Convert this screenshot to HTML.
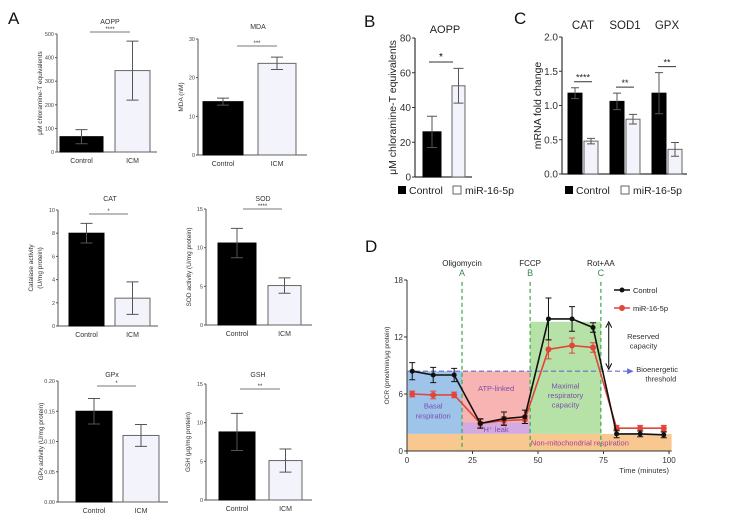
<!DOCTYPE html>
<html><head><meta charset="utf-8"><style>
html,body{margin:0;padding:0;background:#fff;width:750px;height:530px;overflow:hidden}
svg{display:block;font-family:"Liberation Sans",sans-serif}
</style></head><body>
<svg id="fig" width="750" height="530" viewBox="0 0 750 530">
<text x="8" y="24" font-size="17" fill="#111">A</text>
<text x="364" y="27" font-size="17" fill="#111">B</text>
<text x="514" y="24" font-size="17" fill="#111">C</text>
<text x="365" y="252" font-size="17" fill="#111">D</text>
</svg>
<script>
// ---- Panel A data ----
const aCats = ["Control","ICM"];
const aoppVals = [65,345], aoppErr = [30,125], aoppTicks = [0,100,200,300,400,500];
const mdaVals = [13.8,23.7], mdaErr = [0.9,1.6], mdaTicks = [0,10,20,30];
const catVals = [8.0,2.4], catErr = [0.85,1.4], catTicks = [0,2,4,6,8,10];
const sodVals = [10.6,5.1], sodErr = [1.9,1.0], sodTicks = [0,5,10,15];
const gpxVals = [0.15,0.11], gpxErr = [0.021,0.018], gpxTicks = [0,0.05,0.10,0.15,0.20];
const gshVals = [8.8,5.1], gshErr = [2.4,1.5], gshTicks = [0,5,10,15];
// ---- Panel B data ----
const bVals = [26,52.5], bErr = [9,10], bTicks = [0,20,40,60,80];
// ---- Panel C data ----
const cGenes = ["CAT","SOD1","GPX"];
const cControl = [1.18,1.06,1.18], cControlErr = [0.08,0.12,0.3];
const cMir = [0.48,0.80,0.36], cMirErr = [0.04,0.07,0.1];
const cTicks = [0,0.5,1.0,1.5,2.0];
const cStars = ["****","**","**"];
// ---- Panel D data ----
const dTimes = [2,10,18,28,37,45,54,63,71,80,89,98];
const dControl = [8.4,8.0,8.0,2.9,3.4,3.6,13.9,13.9,13.0,1.8,1.8,1.7];
const dControlErr = [0.9,0.8,0.7,0.5,0.7,0.7,2.2,1.3,0.5,0.4,0.3,0.3];
const dMir = [6.0,5.9,5.9,2.9,3.2,3.3,10.7,11.1,10.9,2.4,2.4,2.4];
const dMirErr = [0.3,0.4,0.3,0.4,0.4,0.4,1.0,0.8,0.5,0.3,0.3,0.3];
const dXTicks = [0,25,50,75,100], dYTicks = [0,6,12,18];
const dInjections = [21,47,74], dInjNames = ["Oligomycin","FCCP","Rot+AA"], dInjLetters = ["A","B","C"];

const svg = document.getElementById('fig');
const NS = 'http://www.w3.org/2000/svg';
function el(tag, attrs, parent, text){
  const e = document.createElementNS(NS, tag);
  for (const k in attrs) e.setAttribute(k, attrs[k]);
  if (text !== undefined) e.textContent = text;
  (parent||svg).appendChild(e); return e;
}
function fmt(v, d){ return d===undefined ? String(v) : v.toFixed(d); }

function smallBar(o){
  const g = el('g', {});
  
  
  const max = o.ticks[o.ticks.length-1];
  const y = v => o.y0 - (v/max)*(o.y0-o.yTop);
  const ay = el('line',{x1:o.ax,y1:o.yTop,x2:o.ax,y2:o.y0,stroke:'#555','stroke-width':1},g);
  
  
  const ax = el('line',{x1:o.ax,y1:o.y0,x2:o.axEnd,y2:o.y0,stroke:'#555','stroke-width':1},g);
  
  
  o.ticks.forEach(t=>{
    el('line',{x1:o.ax-2,y1:y(t),x2:o.ax,y2:y(t),stroke:'#555'},g);
    const tx = el('text',{x:o.ax-3,y:y(t)+2,'font-size':o.fs,'text-anchor':'end',fill:'#444'},g,fmt(t,o.dec));
    
    
  });
  o.vals.forEach((v,i)=>{
    const b = o.bars[i];
    const r = el('rect',{x:b[0],y:y(v),width:b[1]-b[0],height:o.y0-y(v),fill:i?'#f3f3fb':'#000',stroke:i?'#666':'#000','stroke-width':1},g);
    
    
    const cx=(b[0]+b[1])/2, e=o.err[i];
    el('path',{d:`M${cx},${y(v-e)}V${y(v+e)}M${cx-6},${y(v+e)}H${cx+6}M${cx-6},${y(v-e)}H${cx+6}`,stroke:'#555',fill:'none','stroke-width':1},g);
    const lt = el('text',{x:cx,y:o.y0+11,'font-size':o.fs+1.5,'text-anchor':'middle',fill:'#333'},g,aCats[i]);
    
    
  });
  const t = el('text',{x:o.tx,y:o.ty,'font-size':o.fs+1.5,'text-anchor':'middle',fill:'#333'},g,o.title);
  
  
  el('line',{x1:o.sig[0],y1:o.sig[2],x2:o.sig[1],y2:o.sig[2],stroke:'#777'},g);
  el('text',{x:(o.sig[0]+o.sig[1])/2,y:o.sig[2]-1,'font-size':6,'text-anchor':'middle',fill:'#333'},g,o.stars);
  const yl = el('text',{transform:`translate(${o.ylx},${(o.yTop+o.y0)/2}) rotate(-90)`,'font-size':o.fs+1,'text-anchor':'middle',fill:'#333'},g);
  
  
  o.ylab.forEach((l,i)=>el('tspan',{x:0,dy:i?9:0},yl,l));
}
smallBar({name:'aopp-chart',vals:aoppVals,err:aoppErr,ticks:aoppTicks,ax:57,axEnd:157,yTop:34,y0:152,bars:[[60,103],[115,150]],fs:5.5,title:'AOPP',tx:110,ty:24,sig:[90,130,32],stars:'****',ylab:['\u03bcM chloramine-T equivalents'],ylx:42});
smallBar({name:'mda-chart',vals:mdaVals,err:mdaErr,ticks:mdaTicks,ax:198,axEnd:307,yTop:39,y0:155,bars:[[203,243],[258,296]],fs:5.5,title:'MDA',tx:258,ty:29,sig:[237,277,46],stars:'***',ylab:['MDA (nM)'],ylx:183});
smallBar({name:'cat-chart',vals:catVals,err:catErr,ticks:catTicks,ax:58,axEnd:158,yTop:210,y0:326,bars:[[69,104],[115,150]],fs:5.5,title:'CAT',tx:110,ty:201,sig:[89,128,214],stars:'*',ylab:['Catalase activity','(U/mg protein)'],ylx:33});
smallBar({name:'sod-chart',vals:sodVals,err:sodErr,ticks:sodTicks,ax:206,axEnd:312,yTop:209,y0:325,bars:[[218,256],[268,301]],fs:5.5,title:'SOD',tx:263,ty:201,sig:[243,282,209],stars:'****',ylab:['SOD activity (U/mg protein)'],ylx:191});
smallBar({name:'gpx-activity-chart',vals:gpxVals,err:gpxErr,ticks:gpxTicks,ax:58,axEnd:168,yTop:381,y0:502,bars:[[76,112],[123,159]],fs:5.5,dec:2,title:'GPx',tx:112,ty:377,sig:[97,136,386],stars:'*',ylab:['GPx activity (U/mg protein)'],ylx:43});
smallBar({name:'gsh-chart',vals:gshVals,err:gshErr,ticks:gshTicks,ax:206,axEnd:312,yTop:384,y0:500,bars:[[219,255],[269,302]],fs:5.5,title:'GSH',tx:258,ty:377,sig:[240,280,389],stars:'**',ylab:['GSH (\u03bcg/mg protein)'],ylx:190});

// ---- Panel B ----
(function(){
  const g = el('g',{});
  
  
  const ax=415, yTop=38, y0=177, max=bTicks[bTicks.length-1];
  const y = v => y0-(v/max)*(y0-yTop);
  el('line',{x1:ax,y1:yTop,x2:ax,y2:y0,stroke:'#333','stroke-width':1.2},g);
  el('line',{x1:ax,y1:y0,x2:472,y2:y0,stroke:'#333','stroke-width':1.2},g);
  bTicks.forEach(t=>{
    el('line',{x1:ax-3,y1:y(t),x2:ax,y2:y(t),stroke:'#333'},g);
    const tx=el('text',{x:ax-4,y:y(t)+3.5,'font-size':10,'text-anchor':'end',fill:'#333'},g,String(t));
    
    
  });
  const bars=[[423,441],[452,465]];
  bVals.forEach((v,i)=>{
    const b=bars[i];
    const r=el('rect',{x:b[0],y:y(v),width:b[1]-b[0],height:y0-y(v),fill:i?'#f3f3fb':'#000',stroke:i?'#666':'#000'},g);
    
    
    const cx=(b[0]+b[1])/2,e=bErr[i];
    el('path',{d:`M${cx},${y(v-e)}V${y(v+e)}M${cx-5},${y(v+e)}H${cx+5}M${cx-5},${y(v-e)}H${cx+5}`,stroke:'#555',fill:'none'},g);
  });
  el('line',{x1:429,y1:62,x2:453,y2:62,stroke:'#333'},g);
  el('text',{x:441,y:60,'font-size':10,'text-anchor':'middle'},g,'*');
  const t=el('text',{x:445,y:33,'font-size':11,'text-anchor':'middle',fill:'#222'},g,'AOPP');
  
  
  const yl=el('text',{transform:`translate(396,${(yTop+y0)/2}) rotate(-90)`,'font-size':10.5,'text-anchor':'middle',fill:'#222'},g,'\u03bcM chloramine-T equivalents');
  
  
  const l1=el('g',{},g);
  
  
  el('rect',{x:398,y:186,width:8,height:8,fill:'#000'},l1);
  el('text',{x:409,y:194,'font-size':10.5,fill:'#222'},l1,'Control');
  const l2=el('g',{},g);
  
  
  el('rect',{x:453,y:186,width:8,height:8,fill:'#fff',stroke:'#666'},l2);
  el('text',{x:465,y:194,'font-size':10.5,fill:'#222'},l2,'miR-16-5p');
})();

// ---- Panel C ----
(function(){
  const g=el('g',{});
  
  
  const ax=562,yTop=37,y0=174,max=cTicks[cTicks.length-1];
  const y=v=>y0-(v/max)*(y0-yTop);
  el('line',{x1:ax,y1:yTop,x2:ax,y2:y0,stroke:'#333','stroke-width':1.2},g);
  el('line',{x1:ax,y1:y0,x2:687,y2:y0,stroke:'#333','stroke-width':1.2},g);
  cTicks.forEach(t=>{
    el('line',{x1:ax-3,y1:y(t),x2:ax,y2:y(t),stroke:'#333'},g);
    const tx=el('text',{x:ax-4,y:y(t)+3.5,'font-size':10,'text-anchor':'end',fill:'#333'},g,t.toFixed(1));
    
    
  });
  const gx0=568, gstep=42, bw=14;
  cGenes.forEach((name,i)=>{
    const x0=gx0+i*gstep;
    [[cControl[i],cControlErr[i],x0,'#000','#000'],[cMir[i],cMirErr[i],x0+bw+2,'#f3f3fb','#666']].forEach((s,j)=>{
      const r=el('rect',{x:s[2],y:y(s[0]),width:bw,height:y0-y(s[0]),fill:s[3],stroke:s[4]},g);
      
      
      const cx=s[2]+bw/2;
      el('path',{d:`M${cx},${y(s[0]-s[1])}V${y(s[0]+s[1])}M${cx-4},${y(s[0]+s[1])}H${cx+4}M${cx-4},${y(s[0]-s[1])}H${cx+4}`,stroke:'#555',fill:'none'},g);
    });
    const sy=y(cControl[i]+cControlErr[i])-6;
    el('line',{x1:x0+6,y1:sy,x2:x0+bw+10,y2:sy,stroke:'#333'},g);
    el('text',{x:x0+bw+1,y:sy-1,'font-size':9,'text-anchor':'middle',fill:'#222'},g,cStars[i]);
    const t=el('text',{x:x0+bw+1,y:29,'font-size':11.5,'text-anchor':'middle',fill:'#222'},g,name);
    
    
  });
  const yl=el('text',{transform:`translate(541,${(yTop+y0)/2}) rotate(-90)`,'font-size':10.5,'text-anchor':'middle',fill:'#222'},g,'mRNA fold change');
  
  
  const l1=el('g',{},g);
  
  
  el('rect',{x:565,y:186,width:8,height:8,fill:'#000'},l1);
  el('text',{x:576,y:194,'font-size':10.5,fill:'#222'},l1,'Control');
  const l2=el('g',{},g);
  
  
  el('rect',{x:621,y:186,width:8,height:8,fill:'#fff',stroke:'#666'},l2);
  el('text',{x:633,y:194,'font-size':10.5,fill:'#222'},l2,'miR-16-5p');
})();

// ---- Panel D ----
(function(){
  const g=el('g',{});
  
  
  const x0=407,xw=262,y0=451,yTop=280;
  const X=t=>x0+t/100*xw, Y=v=>y0-v/18*(y0-yTop);
  const base=1.8, basal=8.4, leak=3.0, maxr=13.6;
  const rr=(a,b,c,d,f,n)=>{const r=el('rect',{x:X(a),y:Y(d),width:X(b)-X(a),height:Y(c)-Y(d),fill:f,opacity:0.75},g);
      return r;};
  rr(0,101,0,base,'#f7b46b','region-non-mitochondrial');
  rr(0,dInjections[0],base,basal,'#7fb0e3','region-basal');
  rr(dInjections[0],dInjections[1],leak,basal,'#f59a9a','region-atp-linked');
  rr(dInjections[0],dInjections[1],base,leak,'#c58fd6','region-proton-leak');
  rr(dInjections[1],dInjections[2],base,maxr,'#9fd88a','region-maximal');
  const lab=(x,y,s,c,a)=>el('text',{x:x,y:y,'font-size':7.5,'text-anchor':a||'middle',fill:c},g,s);
  lab(X(10),Y(4.5),'Basal','#7a4fb0'); lab(X(10),Y(3.4),'respiration','#7a4fb0');
  lab(X(34),Y(6.3),'ATP-linked','#7a4fb0'); lab(X(34),Y(2.0),'H\u207a leak','#7a4fb0');
  lab(X(60.5),Y(6.6),'Maximal','#7a4fb0'); lab(X(60.5),Y(5.6),'respiratory','#7a4fb0'); lab(X(60.5),Y(4.6),'capacity','#7a4fb0');
  lab(X(66),Y(0.6),'Non-mitochondrial respiration','#a040a0');
  el('line',{x1:x0,y1:yTop,x2:x0,y2:y0,stroke:'#333'},g);
  el('line',{x1:x0,y1:y0,x2:X(101),y2:y0,stroke:'#333'},g);
  dYTicks.forEach(t=>{el('line',{x1:x0-3,y1:Y(t),x2:x0,y2:Y(t),stroke:'#333'},g);
    const tx=el('text',{x:x0-4,y:Y(t)+3,'font-size':8,'text-anchor':'end',fill:'#333'},g,String(t));
     });
  dXTicks.forEach(t=>{el('line',{x1:X(t),y1:y0,x2:X(t),y2:y0+3,stroke:'#333'},g);
    const tx=el('text',{x:X(t),y:y0+12,'font-size':8,'text-anchor':'middle',fill:'#333'},g,String(t));
     });
  const xt=el('text',{x:X(100),y:y0+22,'font-size':7.5,'text-anchor':'end',fill:'#333'},g,'Time (minutes)');
   
  const yl=el('text',{transform:`translate(389,${(yTop+y0)/2}) rotate(-90)`,'font-size':6.5,'text-anchor':'middle',fill:'#333'},g,'OCR (pmol/min/\u03bcg protein)');
   
  dInjections.forEach((t,i)=>{
    const l=el('line',{x1:X(t),y1:Y(17.8),x2:X(t),y2:y0,stroke:'#3aa84a','stroke-dasharray':'4,3','stroke-width':1.2},g);
     
    el('text',{x:X(t),y:266,'font-size':8,'text-anchor':'middle',fill:'#222'},g,dInjNames[i]);
    el('text',{x:X(t),y:276,'font-size':9,'text-anchor':'middle',fill:'#3a8a4a'},g,dInjLetters[i]);
  });
  const bt=el('line',{x1:x0,y1:Y(basal),x2:X(84),y2:Y(basal),stroke:'#6a6ad0','stroke-dasharray':'5,3','stroke-width':1.2},g);
   
  el('path',{d:`M${X(84)},${Y(basal)-3}L${X(86.5)},${Y(basal)}L${X(84)},${Y(basal)+3}Z`,fill:'#6a6ad0'},g);
  lab(X(87.5),Y(8.3),'Bioenergetic','#333','start'); lab(X(91),Y(7.3),'threshold','#333','start');
  const ra=X(77);
  el('line',{x1:ra,y1:Y(13.4),x2:ra,y2:Y(8.8),stroke:'#000'},g);
  el('path',{d:`M${ra-3},${Y(13.4)+4}L${ra},${Y(13.6)}L${ra+3},${Y(13.4)+4}M${ra-3},${Y(8.8)-4}L${ra},${Y(8.6)}L${ra+3},${Y(8.8)-4}`,fill:'none',stroke:'#000'},g);
  lab(X(84),Y(11.8),'Reserved','#333','start'); lab(X(85),Y(10.8),'capacity','#333','start');
  const series=(vals,err,col,name,r)=>{
    const sg=el('g',{},g);
     
    vals.forEach((v,i)=>{const x=X(dTimes[i]);
      el('path',{d:`M${x},${Y(v-err[i])}V${Y(v+err[i])}M${x-3},${Y(v+err[i])}H${x+3}M${x-3},${Y(v-err[i])}H${x+3}`,stroke:col,fill:'none'},sg);});
    el('polyline',{points:vals.map((v,i)=>X(dTimes[i])+','+Y(v)).join(' '),fill:'none',stroke:col,'stroke-width':1.6},sg);
    vals.forEach((v,i)=>{const c=el('circle',{cx:X(dTimes[i]),cy:Y(v),r:r,fill:col},sg);
       });
  };
  series(dMir,dMirErr,'#e0463a','series-mir-16-5p',3);
  series(dControl,dControlErr,'#111','series-control',2.5);
  const lg1=el('g',{},g);  
  el('line',{x1:614,y1:290,x2:630,y2:290,stroke:'#111','stroke-width':1.5},lg1);
  el('circle',{cx:622,cy:290,r:2.5,fill:'#111'},lg1);
  el('text',{x:633,y:293,'font-size':7.5,fill:'#222'},lg1,'Control');
  const lg2=el('g',{},g);  
  el('line',{x1:614,y1:308,x2:630,y2:308,stroke:'#e0463a','stroke-width':1.5},lg2);
  el('circle',{cx:622,cy:308,r:3,fill:'#e0463a'},lg2);
  el('text',{x:633,y:311,'font-size':7.5,fill:'#222'},lg2,'miR-16-5p');
})();
</script>
</body></html>
